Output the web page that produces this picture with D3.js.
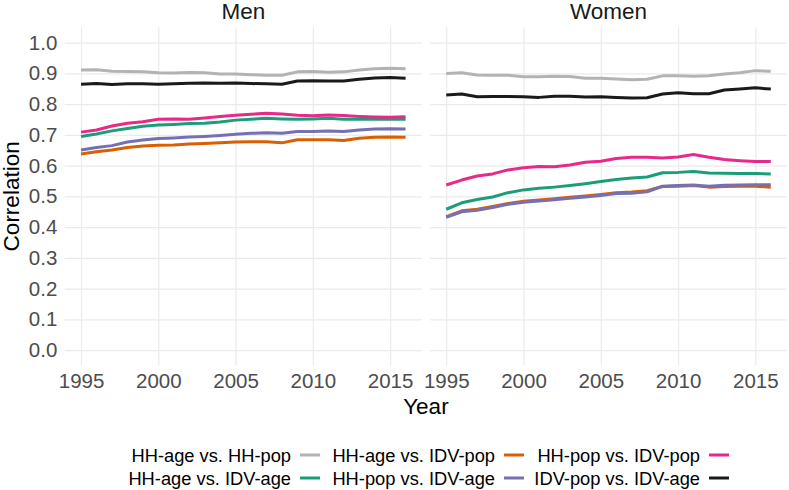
<!DOCTYPE html>
<html>
<head>
<meta charset="utf-8">
<script src="https://cdn.jsdelivr.net/npm/d3@7"></script>
<style>
  html, body { margin: 0; padding: 0; background: #fff; }
  svg { display: block; font-family: "Liberation Sans", Arial, Helvetica, sans-serif; }
</style>
</head>
<body>
<svg id="chart" width="789" height="490"></svg>
<script>
// ---------------- DATA ----------------
const years = [1995,1996,1997,1998,1999,2000,2001,2002,2003,2004,2005,2006,2007,2008,2009,2010,2011,2012,2013,2014,2015,2016];
const panels = ["Men", "Women"];
const seriesNames = ["HH-age vs. HH-pop", "HH-age vs. IDV-age", "HH-age vs. IDV-pop", "HH-pop vs. IDV-age", "HH-pop vs. IDV-pop", "IDV-pop vs. IDV-age"];
const yTicks = [0.0,0.1,0.2,0.3,0.4,0.5,0.6,0.7,0.8,0.9,1.0];
const xTicks = [1995, 2000, 2005, 2010, 2015];

// Men
const menHHageHHpop   = [0.911,0.912,0.907,0.906,0.905,0.902,0.901,0.903,0.902,0.898,0.898,0.896,0.894,0.894,0.905,0.906,0.904,0.905,0.911,0.915,0.917,0.915];
const menHHageIDVage  = [0.695,0.703,0.713,0.721,0.728,0.732,0.734,0.737,0.738,0.742,0.748,0.751,0.754,0.752,0.751,0.752,0.754,0.751,0.751,0.751,0.751,0.751];
const menHHageIDVpop  = [0.638,0.645,0.651,0.659,0.664,0.666,0.667,0.670,0.672,0.674,0.677,0.678,0.678,0.674,0.684,0.684,0.684,0.682,0.689,0.692,0.693,0.692];
const menHHpopIDVage  = [0.651,0.659,0.665,0.677,0.683,0.688,0.690,0.693,0.695,0.698,0.702,0.705,0.707,0.705,0.711,0.711,0.713,0.711,0.716,0.719,0.720,0.719];
const menHHpopIDVpop  = [0.709,0.716,0.729,0.738,0.743,0.751,0.752,0.751,0.755,0.760,0.764,0.767,0.770,0.768,0.764,0.762,0.765,0.763,0.760,0.758,0.757,0.759];
const menIDVpopIDVage = [0.865,0.867,0.864,0.866,0.866,0.865,0.866,0.868,0.869,0.868,0.869,0.867,0.866,0.865,0.875,0.876,0.875,0.875,0.881,0.885,0.887,0.884];

// Women
const womenHHageHHpop   = [0.900,0.902,0.895,0.894,0.894,0.889,0.889,0.891,0.890,0.884,0.884,0.882,0.879,0.881,0.892,0.892,0.891,0.892,0.898,0.902,0.909,0.907];
const womenHHageIDVage  = [0.458,0.479,0.490,0.498,0.512,0.521,0.526,0.530,0.535,0.541,0.548,0.555,0.560,0.563,0.577,0.578,0.581,0.576,0.575,0.574,0.574,0.573];
const womenHHageIDVpop  = [0.434,0.453,0.458,0.467,0.477,0.484,0.488,0.492,0.497,0.501,0.506,0.512,0.514,0.518,0.532,0.533,0.535,0.530,0.532,0.533,0.533,0.530];
const womenHHpopIDVage  = [0.432,0.450,0.455,0.464,0.474,0.481,0.485,0.489,0.494,0.498,0.503,0.509,0.510,0.515,0.533,0.535,0.537,0.533,0.536,0.537,0.538,0.538];
const womenHHpopIDVpop  = [0.537,0.553,0.566,0.573,0.586,0.593,0.597,0.596,0.602,0.611,0.614,0.623,0.627,0.627,0.625,0.628,0.636,0.627,0.620,0.616,0.613,0.613];
const womenIDVpopIDVage = [0.830,0.833,0.824,0.825,0.825,0.824,0.822,0.826,0.826,0.823,0.824,0.822,0.820,0.821,0.833,0.837,0.834,0.834,0.846,0.849,0.853,0.849];

const palette = ["#B3B3B3", "#1B9E77", "#D95F02", "#7570B3", "#E7298A", "#1A1A1A"];

const panelData = {
  Men:   [menHHageHHpop, menHHageIDVage, menHHageIDVpop, menHHpopIDVage, menHHpopIDVpop, menIDVpopIDVage],
  Women: [womenHHageHHpop, womenHHageIDVage, womenHHageIDVpop, womenHHpopIDVage, womenHHpopIDVpop, womenIDVpopIDVage]
};

// ---------------- LAYOUT ----------------
const svg = d3.select("#chart");
const panelTop = 27.3, panelBottom = 365.4;
const panelX = { Men: [64.8, 421.8], Women: [430, 787] };

const y = d3.scaleLinear().domain([-0.05, 1.05]).range([panelBottom, panelTop]);
const color = d3.scaleOrdinal().domain(seriesNames).range(palette);

panels.forEach((p, pi) => {
  const [x0, x1] = panelX[p];
  const x = d3.scaleLinear().domain([1995 - 1.05, 2016 + 1.05]).range([x0, x1]);
  const g = svg.append("g");

  // horizontal grid
  const gy = g.append("g").attr("transform", `translate(${x0},0)`)
    .call(d3.axisLeft(y).tickValues(yTicks).tickSize(-(x1 - x0)).tickFormat(""));
  gy.select(".domain").remove();
  gy.selectAll("line").attr("stroke", "#EBEBEB").attr("stroke-width", 1.2);

  // vertical grid
  const gx = g.append("g").attr("transform", `translate(0,${panelBottom})`)
    .call(d3.axisBottom(x).tickValues(xTicks).tickSize(-(panelBottom - panelTop)).tickFormat(""));
  gx.select(".domain").remove();
  gx.selectAll("line").attr("stroke", "#EBEBEB").attr("stroke-width", 1.2);

  // x tick labels
  const xl = g.append("g").attr("transform", `translate(0,${panelBottom})`)
    .call(d3.axisBottom(x).tickValues(xTicks).tickSize(0).tickPadding(8.4).tickFormat(d3.format("d")));
  xl.select(".domain").remove();
  xl.selectAll("text").attr("fill", "#4D4D4D").style("font-size", "20.5px")
    .style("font-family", '"Liberation Sans", Arial, sans-serif');

  // y tick labels only on first panel
  if (pi === 0) {
    const yl = g.append("g").attr("transform", `translate(${x0},0)`)
      .call(d3.axisLeft(y).tickValues(yTicks).tickSize(0).tickPadding(7.5).tickFormat(d3.format(".1f")));
    yl.select(".domain").remove();
    yl.selectAll("text").attr("fill", "#4D4D4D").style("font-size", "20.5px")
      .style("font-family", '"Liberation Sans", Arial, sans-serif');
  }

  // strip title
  g.append("text").attr("x", (x0 + x1) / 2).attr("y", 18.5)
    .attr("text-anchor", "middle").attr("fill", "#1A1A1A").style("font-size", "22.5px")
    .text(p);

  // lines
  const line = d3.line().x((d, i) => x(years[i])).y(d => y(d));
  panelData[p].forEach((vals, si) => {
    g.append("path").datum(vals)
      .attr("d", line)
      .attr("fill", "none")
      .attr("stroke", color(seriesNames[si]))
      .attr("stroke-width", 3)
      .attr("stroke-linejoin", "round")
      .attr("stroke-linecap", "butt");
  });
});

// axis titles
svg.append("text").attr("x", (64.8 + 787) / 2).attr("y", 413.5)
  .attr("text-anchor", "middle").attr("fill", "#000").style("font-size", "22.5px").text("Year");
svg.append("text").attr("transform", `translate(18.5,${(panelTop + panelBottom) / 2}) rotate(-90)`)
  .attr("text-anchor", "middle").attr("fill", "#000").style("font-size", "22.5px").text("Correlation");

// legend (3 columns x 2 rows, filled by column, label left of key)
const keyX = [300, 504, 709];
const rowY = [455, 478];
const legend = svg.append("g");
seriesNames.forEach((name, i) => {
  const col = Math.floor(i / 2), row = i % 2;
  const kx = keyX[col], ky = rowY[row];
  legend.append("line").attr("x1", kx).attr("x2", kx + 20).attr("y1", ky).attr("y2", ky)
    .attr("stroke", color(name)).attr("stroke-width", 3);
  legend.append("text").attr("x", kx - 9).attr("y", ky + 6.5)
    .attr("text-anchor", "end").attr("fill", "#000").style("font-size", "18.3px").text(name);
});
</script>
</body>
</html>
